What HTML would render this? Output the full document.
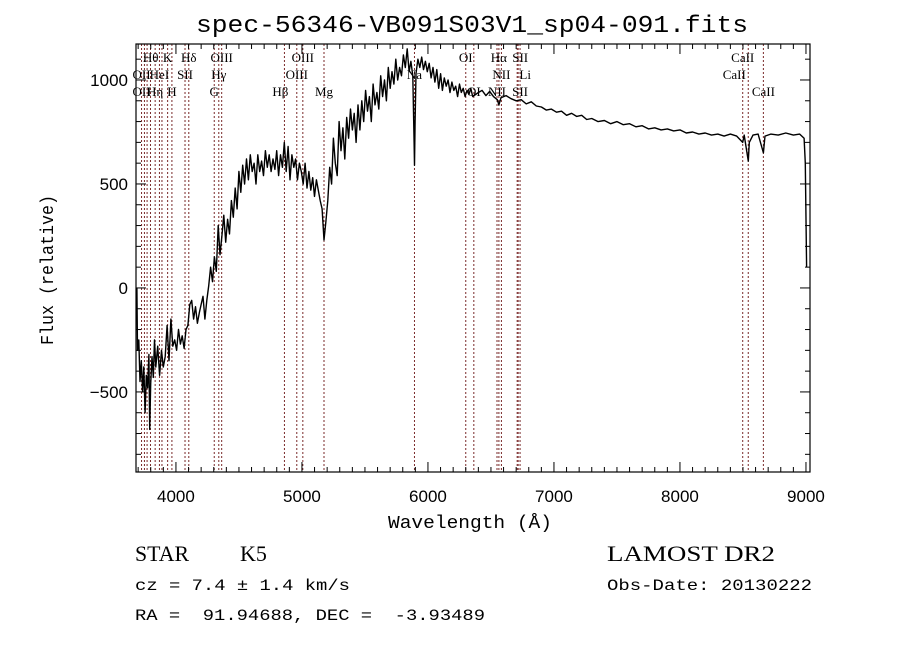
<!DOCTYPE html>
<html><head><meta charset="utf-8"><style>
html,body{margin:0;padding:0;background:#fff;}
svg{display:block;}
</style></head><body>
<svg id="chart" width="900" height="649" viewBox="0 0 900 649" xmlns="http://www.w3.org/2000/svg">
<rect x="0" y="0" width="900" height="649" fill="#fff"/>
<text x="472" y="32" text-anchor="middle" font-family="Liberation Mono, monospace" font-size="24" textLength="552" lengthAdjust="spacingAndGlyphs">spec-56346-VB091S03V1_sp04-091.fits</text>
<g id="lines"></g>
<g id="series"></g>
<g id="axes"></g>
<text x="470" y="528" text-anchor="middle" font-family="Liberation Mono, monospace" font-size="18" textLength="164" lengthAdjust="spacingAndGlyphs">Wavelength (Å)</text>
<text transform="translate(53,270) rotate(-90)" text-anchor="middle" font-family="Liberation Mono, monospace" font-size="18" textLength="150" lengthAdjust="spacingAndGlyphs">Flux (relative)</text>
<text x="135" y="561" font-family="Liberation Serif, serif" font-size="22" textLength="54" lengthAdjust="spacingAndGlyphs">STAR</text>
<text x="240" y="561" font-family="Liberation Serif, serif" font-size="22">K5</text>
<text x="607" y="561" font-family="Liberation Serif, serif" font-size="22" textLength="168" lengthAdjust="spacingAndGlyphs">LAMOST DR2</text>
<text x="135" y="590" font-family="Liberation Mono, monospace" font-size="16" textLength="215" lengthAdjust="spacingAndGlyphs">cz = 7.4 ± 1.4 km/s</text>
<text x="607" y="590" font-family="Liberation Mono, monospace" font-size="16" textLength="205" lengthAdjust="spacingAndGlyphs">Obs-Date: 20130222</text>
<text x="135" y="620" font-family="Liberation Mono, monospace" font-size="16" textLength="350" lengthAdjust="spacingAndGlyphs" xml:space="preserve">RA =  91.94688, DEC =  -3.93489</text>
</svg>
<script>
const wavelengths = [3690,3695,3705,3715,3725,3735,3745,3755,3765,3775,3785,3792,3800,3810,3820,3830,3840,3855,3870,3885,3900,3915,3930,3945,3960,3975,3990,4005,4020,4035,4050,4065,4080,4095,4110,4125,4140,4155,4170,4185,
4200,4215,4230,4245,4260,4275,4290,4305,4320,4335,4350,4365,4380,4395,4410,4425,4440,4455,4470,4485,4500,4515,4530,4545,4560,4575,4590,4605,4620,4635,4650,4665,4680,4695,4710,4725,4740,4755,4770,4785,4800,4815,4830,4845,4860,4875,4890,4905,4920,4935,4950,4965,4980,4995,5010,5025,5040,5055,5070,5085,5100,5115,5130,5145,5160,5175,5190,5205,5220,5235,5250,5265,5280,5295,5310,5325,5340,5355,5370,5385,5400,5415,5430,5445,5460,5475,5490,5505,5520,5535,5550,5565,5580,5595,5610,5625,5640,5655,5670,5685,5700,5715,5730,5745,5760,5775,5790,5805,5820,5835,5850,5865,5880,5890,5893,5898,5905,5920,5935,5950,5965,5980,5995,6010,6025,6040,6055,6070,6085,6100,6115,6130,6145,6160,6175,6190,6205,6220,6235,6250,6265,6280,6295,6310,6325,6340,6355,
6400,6430,6460,6490,6520,6550,6563,6580,6620,6660,6700,6740,6780,6820,6860,6900,6940,6980,7020,7060,7100,7140,7180,7220,7260,7300,7350,7400,7450,7500,7550,7600,7650,7700,7750,7800,7850,7900,7950,8000,8050,8100,8150,8200,8250,8300,8350,8400,8450,8498,8510,8542,8550,8580,8620,8662,8675,8720,8780,8840,8900,8950,8985,8995,9005];
const fluxes = [0,-300,-250,-450,-350,-500,-380,-600,-420,-480,-320,-680,-460,-330,-430,-250,-380,-280,-420,-300,-380,-330,-180,-350,-150,-280,-250,-300,-200,-270,-230,-290,-200,-180,-80,-60,-150,-90,-170,-120,
-80,-40,-150,-60,10,100,30,150,80,300,160,250,350,220,330,260,420,340,480,380,560,460,590,500,620,520,640,560,600,500,640,560,610,540,660,580,640,560,620,570,660,540,640,580,700,560,680,520,640,580,620,520,600,560,500,600,480,560,470,530,440,520,470,420,380,230,320,420,580,500,720,600,540,800,660,770,620,820,720,860,760,840,700,880,760,900,800,950,850,920,800,980,880,940,860,1020,920,1000,900,1060,960,1040,980,1100,1000,1060,1020,1120,1060,1150,1040,1090,1020,700,590,800,1030,1100,1060,1110,1050,1090,1040,1080,1010,1060,990,1050,960,1030,950,1010,970,1000,940,990,950,970,920,980,940,960,920,950,930,960,920,
940,950,925,945,920,905,880,915,925,910,900,905,885,895,875,870,855,860,845,850,830,840,825,830,810,815,800,805,790,800,785,790,775,780,765,770,760,765,755,760,745,750,740,745,735,740,730,740,730,700,735,610,700,735,740,650,730,740,735,745,735,740,720,600,100];
const lineWaves = [3727,3750,3771,3798,3835,3869,3889,3934,3968,4072,4102,4304,4340,4363,4861,4959,5007,5175,5893,6300,6364,6548,6563,6583,6708,6716,6731,8498,8542,8662];
const lineLabels = [
 {t:"Hθ",w:3800,r:0,dx:0},{t:"K",w:3934,r:0,dx:0},{t:"Hδ",w:4102,r:0,dx:0},{t:"OIII",w:4363,r:0,dx:0},{t:"OIII",w:5007,r:0,dx:0},{t:"OI",w:6300,r:0,dx:0},{t:"Hα",w:6563,r:0,dx:0},{t:"SII",w:6716,r:0,dx:2},{t:"CaII",w:8498,r:0,dx:0},
 {t:"OII",w:3727,r:1,dx:0},{t:"HeI",w:3869,r:1,dx:0},{t:"SII",w:4072,r:1,dx:0},{t:"Hγ",w:4340,r:1,dx:0},{t:"OIII",w:4959,r:1,dx:0},{t:"Na",w:5893,r:1,dx:0},{t:"NII",w:6583,r:1,dx:0},{t:"Li",w:6708,r:1,dx:8},{t:"CaII",w:8542,r:1,dx:-14},
 {t:"OII",w:3727,r:2,dx:0},{t:"Hη",w:3835,r:2,dx:0},{t:"H",w:3968,r:2,dx:0},{t:"G",w:4304,r:2,dx:0},{t:"Hβ",w:4861,r:2,dx:-4},{t:"Mg",w:5175,r:2,dx:0},{t:"OI",w:6364,r:2,dx:0},{t:"NII",w:6548,r:2,dx:0},{t:"SII",w:6731,r:2,dx:0},{t:"CaII",w:8662,r:2,dx:0}
];
const xTicks = [4000,5000,6000,7000,8000,9000];
const xTickLabels = ["4000","5000","6000","7000","8000","9000"];
const yTicks = [-500,0,500,1000];
const yTickLabels = ["−500","0","500","1000"];

const X0=136,X1=810,Y0=44,Y1=472;
const XMIN=3683,XMAX=9032,YMIN=-885,YMAX=1173;
const sx=w=>X0+(w-XMIN)/(XMAX-XMIN)*(X1-X0);
const sy=f=>Y1-(f-YMIN)/(YMAX-YMIN)*(Y1-Y0);
const NS="http://www.w3.org/2000/svg";
function mk(tag,parent,attrs){const e=document.createElementNS(NS,tag);for(const k in attrs)e.setAttribute(k,attrs[k]);parent.appendChild(e);return e;}

const lg=document.getElementById('lines');
lineWaves.forEach(w=>{
 const l=mk('line',lg,{x1:sx(w),x2:sx(w),y1:Y0,y2:Y1,stroke:'#7a2a2a','stroke-width':1,'stroke-dasharray':'2,2'});
 
 
});
const rowY=[62,79,96];
lineLabels.forEach(o=>{
 const t=mk('text',lg,{x:sx(o.w)+o.dx,y:rowY[o.r],'text-anchor':'middle','font-family':'Liberation Serif, serif','font-size':13,fill:'#000'});
 t.textContent=o.t;
 
 
});

const sg=document.getElementById('series');
const pts=wavelengths.map((w,i)=>sx(w).toFixed(1)+','+sy(Math.max(YMIN,Math.min(YMAX,fluxes[i]))).toFixed(1)).join(' ');
const pl=mk('polyline',sg,{points:pts,fill:'none',stroke:'#000','stroke-width':1.4,'stroke-linejoin':'round'});



const ag=document.getElementById('axes');
const fr=mk('rect',ag,{x:X0,y:Y0,width:X1-X0,height:Y1-Y0,fill:'none',stroke:'#000','stroke-width':1.2});


for(let w=3700;w<=9000;w+=100){
 const major=w%1000===0, len=major?10:5, x=sx(w);
 mk('line',ag,{x1:x,x2:x,y1:Y1,y2:Y1-len,stroke:'#000'});
 mk('line',ag,{x1:x,x2:x,y1:Y0,y2:Y0+len,stroke:'#000'});
}
for(let f=-800;f<=1100;f+=100){
 const major=f%500===0, len=major?10:5, y=sy(f);
 mk('line',ag,{x1:X0,x2:X0+len,y1:y,y2:y,stroke:'#000'});
 mk('line',ag,{x1:X1,x2:X1-len,y1:y,y2:y,stroke:'#000'});
}
xTicks.forEach((w,i)=>{
 const t=mk('text',ag,{x:sx(w),y:502,'text-anchor':'middle','font-family':'Liberation Sans, sans-serif','font-size':17});
 t.textContent=xTickLabels[i];
 
 
});
yTicks.forEach((f,i)=>{
 const t=mk('text',ag,{x:128,y:sy(f)+6,'text-anchor':'end','font-family':'Liberation Sans, sans-serif','font-size':17});
 t.textContent=yTickLabels[i];
 
 
});
</script>
</body></html>
